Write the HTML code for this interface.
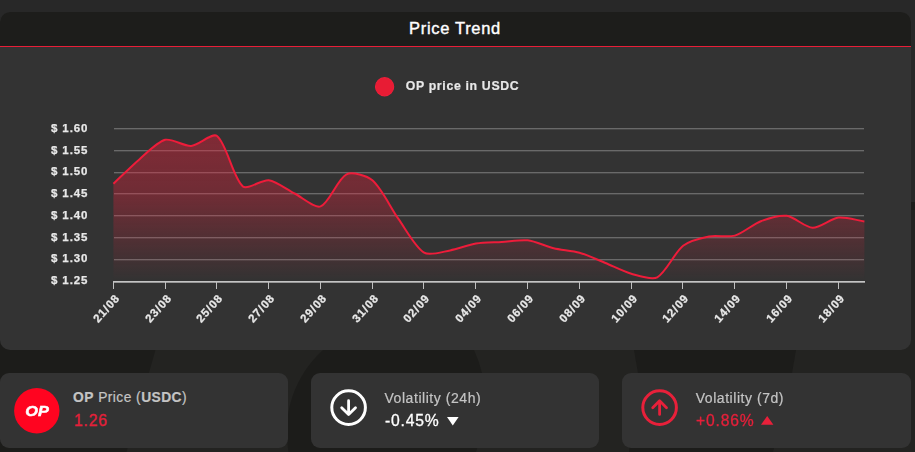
<!DOCTYPE html>
<html><head><meta charset="utf-8"><title>Price Trend</title>
<style>
html,body{margin:0;padding:0;}
body{width:915px;height:452px;overflow:hidden;background:#1c1c1a;position:relative;font-family:"Liberation Sans",sans-serif;}
.abs{position:absolute;}
#bgtop{left:0;top:0;width:915px;height:202px;background:#282828;}
#bgsvg{left:0;top:202px;}
#card{left:0;top:12px;width:911px;height:338px;background:#333333;border-radius:10px;overflow:hidden;}
#hdr{left:0;top:0;width:911px;height:34px;background:#1d1d1b;}
#hline{left:0;top:34px;width:911px;height:1px;background:#e81e38;}
#title{left:-0.5px;top:0;width:911px;height:34px;line-height:33px;text-align:center;color:#fff;font-weight:normal;font-size:16.5px;letter-spacing:0.68px;-webkit-text-stroke:0.4px #fff;}
#chart{left:0;top:0;will-change:transform;}
.yl{font:bold 11.5px "Liberation Sans",sans-serif;fill:#e8e8e8;letter-spacing:0.88px;stroke:#e8e8e8;stroke-width:0.25px;}
.xl{font:bold 11.5px "Liberation Sans",sans-serif;fill:#e8e8e8;letter-spacing:0.9px;stroke:#e8e8e8;stroke-width:0.25px;}
.lg{font:bold 12.3px "Liberation Sans",sans-serif;fill:#e8e8e8;letter-spacing:0.67px;stroke:#e8e8e8;stroke-width:0.2px;}
.sc{top:373px;height:74.8px;background:#333333;border-radius:9px;}
.lbl{font-size:14px;color:#c4c4c4;letter-spacing:0.55px;white-space:nowrap;line-height:14px;-webkit-text-stroke:0.2px #c4c4c4;}
.val{font-size:15.7px;letter-spacing:0.8px;white-space:nowrap;line-height:16px;-webkit-text-stroke:0.3px;}
b{font-weight:bold;}
</style></head><body>
<div class="abs" id="bgtop"></div>
<svg class="abs" id="bgsvg" width="915" height="250" viewBox="0 202 915 250">
  <rect x="0" y="210" width="915" height="242" fill="#232321"/>
  <rect x="0" y="202" width="915" height="8" fill="#1c1c1a"/>
  <polygon points="0,210 0,452 126.5,452 155.4,350 194,210" fill="#1c1c1a"/>
  <path d="M323,350 A110.4,110.4 0 0,0 288.5,452 L475.9,452 A127.4,127.4 0 0,0 474,350 Z" fill="#1c1c1a"/>
  <polygon points="634,210 634,350 638,373 629,452 773,452 792,373 796,350 800,210" fill="#1c1c1a"/>
</svg>
<div class="abs" id="card">
  <div class="abs" id="hdr"></div>
  <div class="abs" id="hline"></div>
  <div class="abs" id="title">Price Trend</div>
</div>
<svg class="abs" id="chart" width="915" height="452" viewBox="0 0 915 452">
  <defs>
    <linearGradient id="fg" gradientUnits="userSpaceOnUse" x1="0" y1="128" x2="0" y2="281">
      <stop offset="0" stop-color="#e8203a" stop-opacity="0.44"/>
      <stop offset="0.45" stop-color="#e8203a" stop-opacity="0.33"/>
      <stop offset="1" stop-color="#e8203a" stop-opacity="0.0"/>
    </linearGradient>
  </defs>
  <circle cx="384.6" cy="86.75" r="9.1" fill="#e81c34" stroke="#f01e3a" stroke-width="1.1"/>
  <text x="405.7" y="90.3" class="lg">OP price in USDC</text>
  <rect x="114" y="128.00" width="750" height="1.35" fill="#6a6a6a"/><rect x="114" y="150.00" width="750" height="1.35" fill="#6a6a6a"/><rect x="114" y="172.00" width="750" height="1.35" fill="#6a6a6a"/><rect x="114" y="193.00" width="750" height="1.35" fill="#6a6a6a"/><rect x="114" y="215.00" width="750" height="1.35" fill="#6a6a6a"/><rect x="114" y="237.00" width="750" height="1.35" fill="#6a6a6a"/><rect x="114" y="259.00" width="750" height="1.35" fill="#6a6a6a"/>
  <path d="M113.40,183.70 C120.65,176.90 131.72,165.82 139.30,159.40 C146.22,153.53 157.22,141.88 165.19,139.80 C171.72,138.10 183.99,146.42 191.09,145.90 C198.49,145.36 212.22,132.27 216.99,136.00 C226.72,143.61 233.02,177.98 242.88,186.40 C247.52,190.36 261.85,179.25 268.78,180.20 C276.35,181.24 287.40,189.82 294.68,193.50 C301.90,197.16 314.59,208.62 320.57,206.40 C329.10,203.24 337.65,178.74 346.47,174.30 C352.15,171.44 367.07,175.77 372.37,180.30 C381.57,188.18 390.73,208.08 398.26,218.60 C405.24,228.35 415.14,247.16 424.16,252.70 C429.64,256.06 442.91,251.66 450.06,250.40 C457.41,249.11 468.59,244.79 475.95,243.60 C483.09,242.44 494.60,242.46 501.85,242.00 C509.10,241.54 520.65,239.45 527.74,240.30 C535.15,241.19 546.28,246.44 553.64,248.20 C560.79,249.91 572.50,250.69 579.54,252.70 C587.00,254.83 598.20,260.07 605.43,263.00 C612.71,265.95 623.83,271.63 631.33,273.70 C638.33,275.63 651.56,280.35 657.23,277.30 C666.06,272.54 674.46,252.62 683.12,245.80 C688.97,241.20 701.55,237.97 709.02,236.50 C716.05,235.11 728.15,237.60 734.92,235.60 C742.65,233.31 753.15,224.13 760.81,221.20 C767.65,218.59 779.73,214.91 786.71,215.80 C794.24,216.76 805.26,227.54 812.61,227.80 C819.77,228.05 831.03,218.52 838.50,217.60 C845.53,216.73 857.15,220.34 864.40,221.40 L864.4,281 L113.4,281 Z" fill="url(#fg)"/>
  <path d="M113.40,183.70 C120.65,176.90 131.72,165.82 139.30,159.40 C146.22,153.53 157.22,141.88 165.19,139.80 C171.72,138.10 183.99,146.42 191.09,145.90 C198.49,145.36 212.22,132.27 216.99,136.00 C226.72,143.61 233.02,177.98 242.88,186.40 C247.52,190.36 261.85,179.25 268.78,180.20 C276.35,181.24 287.40,189.82 294.68,193.50 C301.90,197.16 314.59,208.62 320.57,206.40 C329.10,203.24 337.65,178.74 346.47,174.30 C352.15,171.44 367.07,175.77 372.37,180.30 C381.57,188.18 390.73,208.08 398.26,218.60 C405.24,228.35 415.14,247.16 424.16,252.70 C429.64,256.06 442.91,251.66 450.06,250.40 C457.41,249.11 468.59,244.79 475.95,243.60 C483.09,242.44 494.60,242.46 501.85,242.00 C509.10,241.54 520.65,239.45 527.74,240.30 C535.15,241.19 546.28,246.44 553.64,248.20 C560.79,249.91 572.50,250.69 579.54,252.70 C587.00,254.83 598.20,260.07 605.43,263.00 C612.71,265.95 623.83,271.63 631.33,273.70 C638.33,275.63 651.56,280.35 657.23,277.30 C666.06,272.54 674.46,252.62 683.12,245.80 C688.97,241.20 701.55,237.97 709.02,236.50 C716.05,235.11 728.15,237.60 734.92,235.60 C742.65,233.31 753.15,224.13 760.81,221.20 C767.65,218.59 779.73,214.91 786.71,215.80 C794.24,216.76 805.26,227.54 812.61,227.80 C819.77,228.05 831.03,218.52 838.50,217.60 C845.53,216.73 857.15,220.34 864.40,221.40" fill="none" stroke="#ee1c3a" stroke-width="2" stroke-linejoin="round"/>
  <rect x="113" y="281" width="752" height="1.7" fill="#c4c4c4"/>
  <rect x="113" y="281" width="1" height="8" fill="#c0c0c0"/><rect x="165" y="281" width="1" height="8" fill="#c0c0c0"/><rect x="216" y="281" width="1" height="8" fill="#c0c0c0"/><rect x="268" y="281" width="1" height="8" fill="#c0c0c0"/><rect x="320" y="281" width="1" height="8" fill="#c0c0c0"/><rect x="372" y="281" width="1" height="8" fill="#c0c0c0"/><rect x="423" y="281" width="1" height="8" fill="#c0c0c0"/><rect x="475" y="281" width="1" height="8" fill="#c0c0c0"/><rect x="527" y="281" width="1" height="8" fill="#c0c0c0"/><rect x="579" y="281" width="1" height="8" fill="#c0c0c0"/><rect x="631" y="281" width="1" height="8" fill="#c0c0c0"/><rect x="682" y="281" width="1" height="8" fill="#c0c0c0"/><rect x="734" y="281" width="1" height="8" fill="#c0c0c0"/><rect x="786" y="281" width="1" height="8" fill="#c0c0c0"/><rect x="838" y="281" width="1" height="8" fill="#c0c0c0"/>
  <text x="51" y="131.85" class="yl">$ 1.60</text><text x="51" y="153.61" class="yl">$ 1.55</text><text x="51" y="175.37" class="yl">$ 1.50</text><text x="51" y="197.13" class="yl">$ 1.45</text><text x="51" y="218.89" class="yl">$ 1.40</text><text x="51" y="240.65" class="yl">$ 1.35</text><text x="51" y="262.41" class="yl">$ 1.30</text><text x="51" y="284.17" class="yl">$ 1.25</text>
  <text class="xl" text-anchor="end" transform="translate(120.50,298.50) rotate(-48)">21/08</text><text class="xl" text-anchor="end" transform="translate(172.50,298.50) rotate(-48)">23/08</text><text class="xl" text-anchor="end" transform="translate(223.50,298.50) rotate(-48)">25/08</text><text class="xl" text-anchor="end" transform="translate(275.50,298.50) rotate(-48)">27/08</text><text class="xl" text-anchor="end" transform="translate(327.50,298.50) rotate(-48)">29/08</text><text class="xl" text-anchor="end" transform="translate(379.50,298.50) rotate(-48)">31/08</text><text class="xl" text-anchor="end" transform="translate(430.50,298.50) rotate(-48)">02/09</text><text class="xl" text-anchor="end" transform="translate(482.50,298.50) rotate(-48)">04/09</text><text class="xl" text-anchor="end" transform="translate(534.50,298.50) rotate(-48)">06/09</text><text class="xl" text-anchor="end" transform="translate(586.50,298.50) rotate(-48)">08/09</text><text class="xl" text-anchor="end" transform="translate(638.50,298.50) rotate(-48)">10/09</text><text class="xl" text-anchor="end" transform="translate(689.50,298.50) rotate(-48)">12/09</text><text class="xl" text-anchor="end" transform="translate(741.50,298.50) rotate(-48)">14/09</text><text class="xl" text-anchor="end" transform="translate(793.50,298.50) rotate(-48)">16/09</text><text class="xl" text-anchor="end" transform="translate(845.50,298.50) rotate(-48)">18/09</text>
</svg>

<div class="abs sc" style="left:0;width:288px;">
  <svg class="abs" style="left:13.7px;top:14.5px;will-change:transform" width="46" height="46" viewBox="0 0 46 46">
    <circle cx="22.8" cy="22.8" r="22.7" fill="#ff0420"/>
    <text x="0" y="0" text-anchor="middle" transform="translate(23,27.9) scale(1.14,1)" style="font:italic bold 14.3px 'Liberation Sans',sans-serif;fill:#fff;stroke:#fff;stroke-width:0.45px;letter-spacing:0px">OP</text>
  </svg>
  <div class="abs lbl" style="left:73px;top:17.5px;font-size:13.8px;letter-spacing:0.45px"><b>OP</b> Price (<b>USDC</b>)</div>
  <div class="abs val" style="left:74px;top:40.3px;color:#e5203a;">1.26</div>
</div>

<div class="abs sc" style="left:311px;width:288px;">
  <svg class="abs" style="left:18px;top:15px" width="40" height="40" viewBox="329 388 40 40">
    <circle cx="348.6" cy="407.6" r="16.8" fill="none" stroke="#fff" stroke-width="3"/>
    <path d="M348.6,400.7 V414 M341.7,407.7 L348.6,414.6 L355.5,407.7" fill="none" stroke="#fff" stroke-width="2.8" stroke-linecap="round" stroke-linejoin="round"/>
  </svg>
  <div class="abs lbl" style="left:73.5px;top:17.5px;">Volatility (24h)</div>
  <div class="abs val" style="left:74px;top:40.3px;color:#fff;">-0.45%</div>
  <svg class="abs" style="left:136px;top:43.5px" width="12" height="9" viewBox="0 0 12 9"><polygon points="0,0 11.6,0 5.8,8.4" fill="#fff"/></svg>
</div>

<div class="abs sc" style="left:622px;width:289px;">
  <svg class="abs" style="left:18px;top:15px" width="40" height="40" viewBox="640 388 40 40">
    <circle cx="659.6" cy="407.6" r="16.8" fill="none" stroke="#e8203a" stroke-width="3"/>
    <path d="M659.6,414.4 V401.2 M652.7,407.7 L659.6,400.8 L666.5,407.7" fill="none" stroke="#e8203a" stroke-width="2.8" stroke-linecap="round" stroke-linejoin="round"/>
  </svg>
  <div class="abs lbl" style="left:73.7px;top:17.5px;">Volatility (7d)</div>
  <div class="abs val" style="left:74px;top:40.3px;color:#e5203a;">+0.86%</div>
  <svg class="abs" style="left:138.6px;top:43.4px" width="13" height="9" viewBox="0 0 13 9"><polygon points="0,8.7 12.4,8.7 6.2,0" fill="#e8203a"/></svg>
</div>
</body></html>
